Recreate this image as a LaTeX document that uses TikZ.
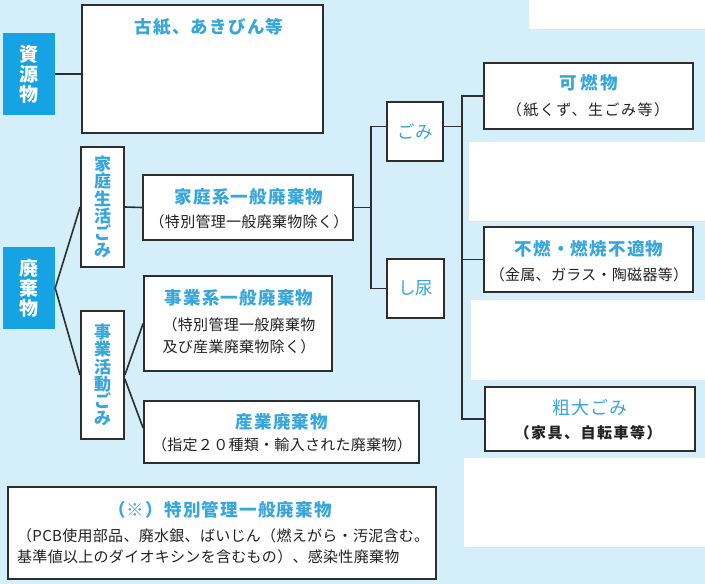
\documentclass[tikz,border=0pt]{standalone}
\usepackage{fontspec}
\setmainfont{Noto Sans CJK JP}
\newfontfamily\ttlfont[LetterSpace=7]{Noto Sans CJK JP}
\newfontfamily\subfont[LetterSpace=2]{Noto Sans CJK JP}
\definecolor{bgc}{HTML}{D4EEFA}
\definecolor{bfill}{HTML}{15A3E3}
\definecolor{tblue}{HTML}{36A6DD}
\definecolor{linec}{HTML}{2E2E2E}
\definecolor{subc}{HTML}{222222}
\tikzset{
  box/.style={draw=linec, line width=1.8pt, fill=white, inner sep=0pt},
  bluebox/.style={fill=bfill, inner sep=0pt, text=white, align=center,
    font=\bfseries\fontsize{19}{20}\selectfont},
  ttl/.style={text=tblue, inner sep=0pt, font=\ttlfont\bfseries\fontsize{17.5}{18}\selectfont},
  sub/.style={text=subc, inner sep=0pt, font=\subfont\fontsize{15}{21.5}\selectfont},
  vert/.style={box, text=tblue, align=center, font=\bfseries\fontsize{17}{17.2}\selectfont},
  conn/.style={draw=linec, line width=1.6pt},
  blank/.style={fill=white, draw=none}
}
\begin{document}
\begin{tikzpicture}[x=1pt,y=-1pt]
\useasboundingbox (0,0) rectangle (705,584);
\fill[bgc] (0,0) rectangle (705,584);
% blank white panels
\fill[blank] (529,0) rectangle (705,29);
\fill[blank] (469,142) rectangle (705,221);
\fill[blank] (471,300) rectangle (705,380);
\fill[blank] (464,458) rectangle (705,547);

% left blue boxes
\node[bluebox, minimum width=52pt, minimum height=82pt] (shigen) at (29,74) {資\\源\\物};
\node[bluebox, minimum width=52pt, minimum height=82pt] (haiki) at (29,288) {廃\\棄\\物};

% resources box
\node[box, minimum width=241pt, minimum height=128pt] (koshi) at (202.5,69) {};
\node[ttl] (koshi-t) at (209,27) {古紙、あきびん等};

% vertical boxes
\node[vert, minimum width=43pt, minimum height=120pt] (katei) at (102.5,207) {家\\庭\\生\\活\\ご\\み};
\node[vert, minimum width=43pt, minimum height=128pt] (jigyo) at (102.5,375) {事\\業\\活\\動\\ご\\み};

% middle boxes
\node[box, minimum width=210pt, minimum height=65pt] (kateikei) at (248,207.5) {};
\node[ttl] (kateikei-t) at (249,197) {家庭系一般廃棄物};
\node[sub] (kateikei-s) at (249,222) {（特別管理一般廃棄物除く）};

\node[box, minimum width=188pt, minimum height=95pt] (jigyokei) at (238,323.5) {};
\node[ttl] (jigyokei-t) at (239,298) {事業系一般廃棄物};
\node[sub, align=left] (jigyokei-s) at (239,336) {（特別管理一般廃棄物\\及び産業廃棄物除く）};

\node[box, minimum width=275pt, minimum height=62pt] (sangyo) at (281.5,432) {};
\node[ttl] (sangyo-t) at (282,422) {産業廃棄物};
\node[sub] (sangyo-s) at (282,445) {（指定２０種類・輸入された廃棄物）};

\node[box, minimum width=428pt, minimum height=92pt] (tokubetsu) at (222,533) {};
\node[ttl] (tokubetsu-t) at (220,510) {（※）特別管理一般廃棄物};
\node[sub, align=left, anchor=west] (tokubetsu-s) at (17,546.5) {（PCB使用部品、廃水銀、ばいじん（燃えがら・汚泥含む。\\基準値以上のダイオキシンを含むもの）、感染性廃棄物};

% gomi / shinyo
\node[box, minimum width=56pt, minimum height=59pt, text=tblue, font=\fontsize{17.5}{18}\selectfont] (gomi) at (415,131.5) {ごみ};
\node[box, minimum width=57pt, minimum height=59pt, text=tblue, font=\fontsize{17.5}{18}\selectfont] (shinyo) at (415.5,288.5) {し尿};

% right boxes
\node[box, minimum width=209pt, minimum height=66pt] (kanen) at (588.5,96) {};
\node[ttl, font=\ttlfont\bfseries\fontsize{17.5}{18}\selectfont\addfontfeature{LetterSpace=18}] (kanen-t) at (589,83) {可燃物};
\node[sub, font=\subfont\fontsize{15}{21}\selectfont\addfontfeature{LetterSpace=10}] (kanen-s) at (588,110) {（紙くず、生ごみ等）};

\node[box, minimum width=209pt, minimum height=65pt] (funen) at (588.5,259.5) {};
\node[ttl] (funen-t) at (589,249) {不燃・燃焼不適物};
\node[sub] (funen-s) at (589,275) {（金属、ガラス・陶磁器等）};

\node[box, minimum width=210pt, minimum height=64pt] (sodai) at (590,419) {};
\node[text=tblue, inner sep=0pt, font=\ttlfont\fontsize{18}{18}\selectfont\addfontfeature{LetterSpace=4}] (sodai-t) at (590,408) {粗大ごみ};
\node[sub, font=\subfont\bfseries\fontsize{15}{21}\selectfont\addfontfeature{LetterSpace=10}] (sodai-s) at (588,433) {（家具、自転車等）};

% connectors
\draw[conn] (shigen.east) -- (shigen.east -| koshi.west);
\draw[conn] (haiki.east) -- (katei.west);
\draw[conn] (haiki.east) -- (jigyo.west);
\draw[conn] (katei.east) -- (kateikei.west);
\draw[conn] (jigyo.east) -- (jigyokei.west);
\draw[conn] ([yshift=-4pt]jigyo.east) -- ([yshift=4pt]sangyo.west);
\coordinate (j1) at (371,207.5);
\draw[conn] (kateikei.east) -- (j1);
\draw[conn] ([yshift=5pt]gomi.west) -| (j1) |- (shinyo.west);
\coordinate (j2) at (462,126.5);
\draw[conn] ([yshift=5pt]gomi.east) -- (j2);
\draw[conn] (kanen.west) -| (j2) |- (sodai.west);
\draw[conn] (funen.west) -- (funen.west -| j2);
\end{tikzpicture}
\end{document}
